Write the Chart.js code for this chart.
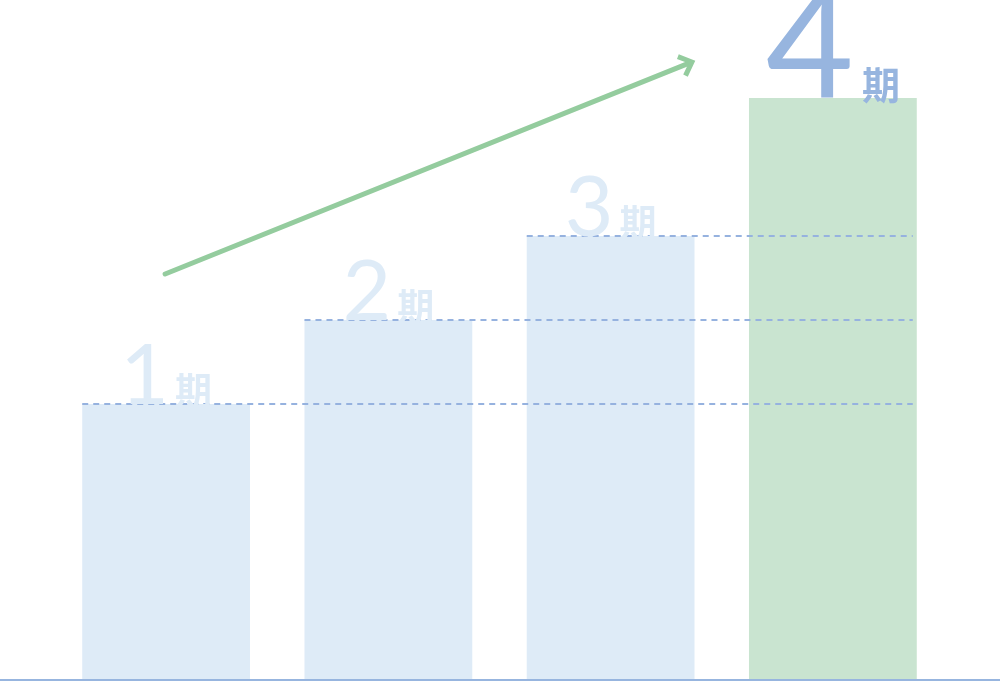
<!DOCTYPE html>
<html lang="ja">
<head>
<meta charset="utf-8">
<title>期別推移</title>
<script src="https://cdn.jsdelivr.net/npm/chart.js@4/dist/chart.umd.min.js"></script>
<style>
  html, body { margin: 0; padding: 0; background: #ffffff; }
  #wrap { width: 1000px; height: 681px; position: relative; }
</style>
</head>
<body>
<div id="wrap"><canvas id="c" width="1000" height="681"></canvas></div>
<script>
// Period labels and values
const periods = ['1', '2', '3', '4'];
const periodSuffix = '期';
const values = [2.75, 3.59, 4.43, 5.81];
const yMax = 6.79;

const barColors = ['#deebf7', '#deebf7', '#deebf7', '#c9e4d0'];
const digitColors = ['#deebf7', '#deebf7', '#deebf7', '#97b5df'];
const digitSizes = [84, 84, 84, 152];
const suffixSizes = [37, 37, 37, 38];

// Dashed guide lines, arrow, period labels and base line
const decorations = {
  id: 'decorations',
  afterDatasetsDraw(chart) {
    const ctx = chart.ctx;
    const meta = chart.getDatasetMeta(0);
    const bars = meta.data;
    const last = bars[bars.length - 1];
    const rightEdge = last.x + last.width / 2 - 4;

    // dashed guides from each earlier bar top across to the last bar
    ctx.save();
    ctx.strokeStyle = '#96b2df';
    ctx.lineWidth = 2;
    ctx.setLineDash([6, 5]);
    for (let i = 0; i < bars.length - 1; i++) {
      const b = bars[i];
      const y = Math.round(b.y);
      ctx.beginPath();
      ctx.moveTo(b.x - b.width / 2, y);
      ctx.lineTo(rightEdge, y);
      ctx.stroke();
    }
    ctx.restore();

    // growth arrow
    const x0 = bars[0].x - 1, y0 = bars[1].y - 46;
    const x1 = bars[3].x - 141, y1 = bars[3].y - 36;
    const ang = Math.atan2(y1 - y0, x1 - x0);
    ctx.save();
    ctx.strokeStyle = '#94cc9e';
    ctx.lineWidth = 5;
    ctx.lineCap = 'round';
    ctx.beginPath();
    ctx.moveTo(x0, y0);
    ctx.lineTo(x1 - 3 * Math.cos(ang), y1 - 3 * Math.sin(ang));
    ctx.stroke();
    ctx.lineJoin = 'miter';
    ctx.lineCap = 'butt';
    const hl = 15;
    ctx.beginPath();
    ctx.moveTo(x1 + hl * Math.cos(ang + Math.PI - 0.75), y1 + hl * Math.sin(ang + Math.PI - 0.75));
    ctx.lineTo(x1, y1);
    ctx.lineTo(x1 + hl * Math.cos(ang + Math.PI + 0.75), y1 + hl * Math.sin(ang + Math.PI + 0.75));
    ctx.stroke();
    ctx.restore();

    // period labels: large digit + bold 期 sitting on each bar
    ctx.save();
    ctx.textBaseline = 'alphabetic';
    ctx.textAlign = 'left';
    bars.forEach((b, i) => {
      const dFont = '400 ' + digitSizes[i] + 'px Lato, "Noto Sans", sans-serif';
      const sFont = '700 ' + suffixSizes[i] + 'px "Noto Sans CJK JP", sans-serif';
      ctx.font = dFont;
      const dw = ctx.measureText(periods[i]).width;
      ctx.font = sFont;
      const sw = ctx.measureText(periodSuffix).width;
      const gap = i === 3 ? 8 : 6;
      const total = dw + gap + sw;
      const left = b.x - total / 2;
      ctx.fillStyle = digitColors[i];
      ctx.font = dFont;
      ctx.fillText(periods[i], left, b.y);
      ctx.font = sFont;
      ctx.fillText(periodSuffix, left + dw + gap, b.y + 1);
    });
    ctx.restore();

    // base line
    ctx.save();
    ctx.strokeStyle = '#97b5df';
    ctx.lineWidth = 2;
    ctx.beginPath();
    ctx.moveTo(0, chart.chartArea.bottom + 1);
    ctx.lineTo(chart.width, chart.chartArea.bottom + 1);
    ctx.stroke();
    ctx.restore();
  }
};

new Chart(document.getElementById('c'), {
  type: 'bar',
  data: {
    labels: periods.map(p => p + periodSuffix),
    datasets: [{
      data: values,
      backgroundColor: barColors,
      borderWidth: 0,
      barPercentage: 0.755,
      categoryPercentage: 1
    }]
  },
  options: {
    responsive: false,
    animation: false,
    layout: { padding: { left: 55, right: 56, top: 0, bottom: 2 } },
    plugins: { legend: { display: false }, tooltip: { enabled: false } },
    scales: {
      x: { display: false },
      y: { display: false, min: 0, max: yMax }
    }
  },
  plugins: [decorations]
});
</script>
</body>
</html>
